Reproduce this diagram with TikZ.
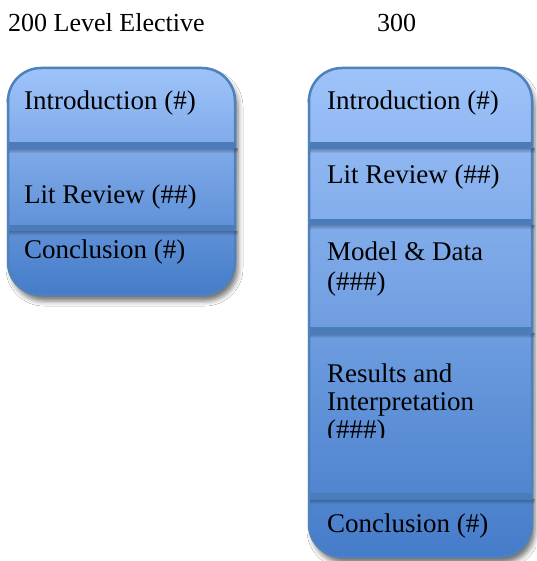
\documentclass[tikz,border=0pt]{standalone}
\usepackage{fontspec}
\setmainfont{Liberation Serif}
\usetikzlibrary{shadows.blur,fadings}
\definecolor{bordblue}{HTML}{4F81BD}
\definecolor{topblue}{HTML}{9EC3FA}
\definecolor{botblue}{HTML}{457CC9}
\definecolor{bandblue}{HTML}{4A7CBA}
\tikzset{
  txt/.style={inner sep=0pt, anchor=base west, font=\fontsize{27}{29}\selectfont},
  ttl/.style={inner sep=0pt, anchor=base west, font=\fontsize{26}{28}\selectfont},
  boxshape/.style={rounded corners=33pt, draw=bordblue, line width=2.5pt,
    top color=topblue, bottom color=botblue,
    blur shadow={shadow xshift=3pt, shadow yshift=-6pt, shadow blur radius=5pt, shadow opacity=55}},
  bandfill/.style={fill=bandblue},
  bandshadow/.style={fill=black, fill opacity=0.28, path fading=south}
}
\newcommand{\divband}[3]{% x1, x2, y
  \fill[bandshadow] (#1,#3+6) rectangle (#2+4,#3+11);
  \fill[bandfill] (#1,#3) rectangle (#2+1,#3+6.5);
}
\begin{document}
\begin{tikzpicture}[x=1pt,y=-1pt]
\useasboundingbox (0,0) rectangle (536,561);
\fill[white] (0,0) rectangle (536,561);
% titles
\node[ttl] (t200) at (8,32) {200 Level Elective};
\node[ttl] (t300) at (377,32) {300};
% left box
\path[boxshape] (8,68) rectangle (235,295);
\divband{9.3}{234}{142.5}
\divband{9.3}{234}{224.5}
\node[txt] (l1) at (24,110) {Introduction (\#)};
\node[txt] (l2) at (24,204) {Lit Review (\#\#)};
\node[txt] (l3) at (24,258) {Conclusion (\#)};
% right box
\path[boxshape] (309,68) rectangle (532,557);
\divband{310.3}{531}{142.5}
\divband{310.3}{531}{218.5}
\divband{310.3}{531}{327}
\divband{310.3}{531}{493}
\node[txt] (r1) at (327,110) {Introduction (\#)};
\node[txt] (r2) at (327,184) {Lit Review (\#\#)};
\node[txt] (r3) at (327,260) {\parbox[t]{200pt}{\raggedright\fontsize{27}{30}\selectfont Model \& Data\\(\#\#\#)}};
\begin{scope}
\clip (310,340) rectangle (531,437);
\node[txt] (r4) at (327,382) {\parbox[t]{200pt}{\raggedright\fontsize{27}{28}\selectfont Results and\\Interpretation\\(\#\#\#)}};
\end{scope}
\node[txt] (r5) at (327,532) {Conclusion (\#)};
\end{tikzpicture}
\end{document}
